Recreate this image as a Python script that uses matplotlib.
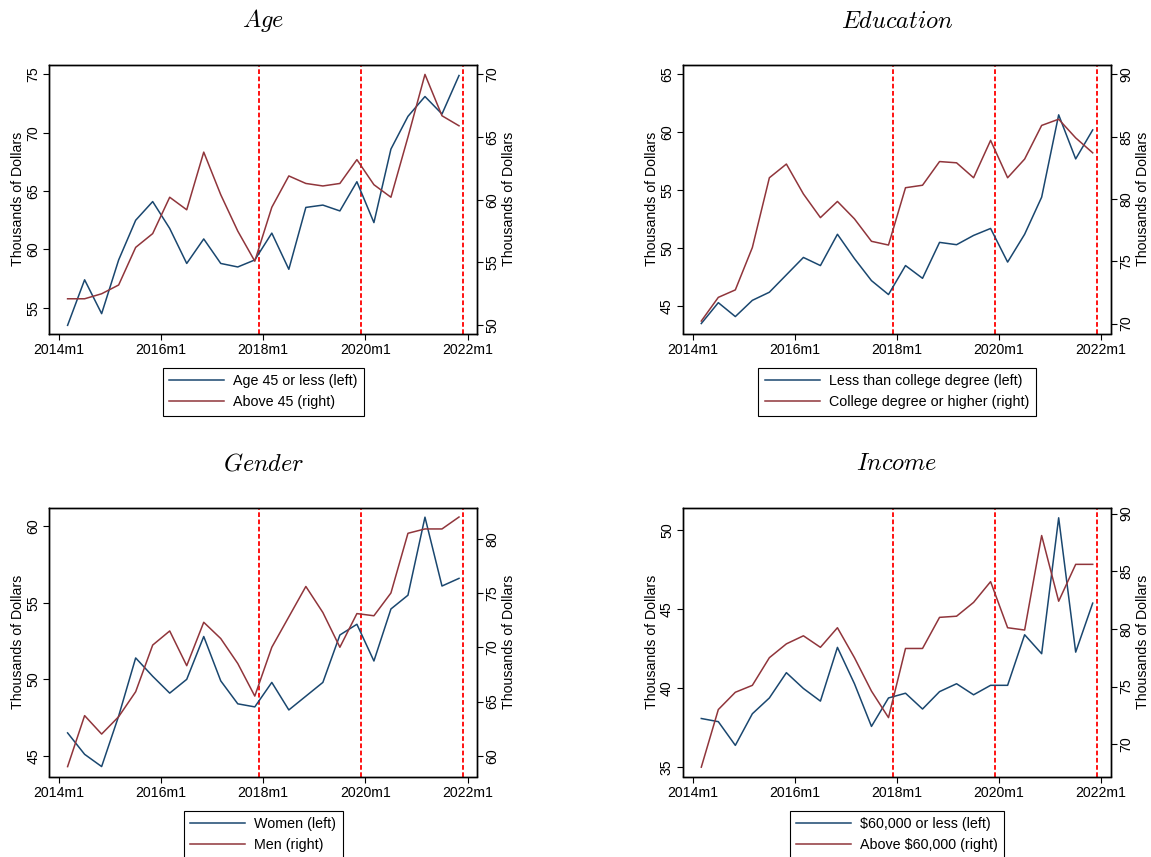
import matplotlib
matplotlib.use('Agg')
import matplotlib.pyplot as plt
from matplotlib.ticker import MultipleLocator
import numpy as np

plt.rcParams['font.family'] = ['Liberation Sans', 'DejaVu Sans']
plt.rcParams['mathtext.fontset'] = 'cm'

# observations every 4 months, 2014m3 ... 2021m11 (months since 2014m1)
months = np.arange(2, 95, 4)
event_months = [47, 71, 95]
tick_months = [0, 24, 48, 72, 96]
tick_labels = ['2014m1', '2016m1', '2018m1', '2020m1', '2022m1']

age_young = [53.5, 57.4, 54.5, 59.1, 62.5, 64.1, 61.8, 58.8, 60.9, 58.8, 58.5, 59.1,
             61.4, 58.3, 63.6, 63.8, 63.3, 65.8, 62.3, 68.6, 71.4, 73.1, 71.6, 74.9]
age_old = [52.1, 52.1, 52.5, 53.2, 56.2, 57.3, 60.2, 59.2, 63.8, 60.4, 57.5, 55.1,
           59.4, 61.9, 61.3, 61.1, 61.3, 63.2, 61.2, 60.2, 65.0, 70.0, 66.7, 65.9]

edu_low = [43.5, 45.3, 44.1, 45.5, 46.2, 47.7, 49.2, 48.5, 51.2, 49.1, 47.2, 46.0,
           48.5, 47.4, 50.5, 50.3, 51.1, 51.7, 48.8, 51.2, 54.4, 61.5, 57.7, 60.2]
edu_high = [70.2, 72.1, 72.7, 76.1, 81.7, 82.8, 80.4, 78.5, 79.8, 78.4, 76.6, 76.3,
            80.9, 81.1, 83.0, 82.9, 81.7, 84.7, 81.7, 83.2, 85.9, 86.4, 84.9, 83.7]

women = [46.5, 45.1, 44.3, 47.6, 51.4, 50.2, 49.1, 50.0, 52.8, 49.9, 48.4, 48.2,
         49.8, 48.0, 48.9, 49.8, 52.9, 53.6, 51.2, 54.6, 55.5, 60.6, 56.1, 56.6]
men = [59.0, 63.7, 62.0, 63.6, 65.9, 70.2, 71.5, 68.3, 72.3, 70.8, 68.5, 65.5,
       70.0, 72.8, 75.6, 73.2, 70.0, 73.1, 72.9, 75.0, 80.5, 80.9, 80.9, 82.0]

inc_low = [38.1, 37.9, 36.4, 38.4, 39.4, 41.0, 40.0, 39.2, 42.6, 40.3, 37.6, 39.4,
           39.7, 38.7, 39.8, 40.3, 39.6, 40.2, 40.2, 43.4, 42.2, 50.8, 42.3, 45.4]
inc_high = [68.0, 73.0, 74.5, 75.1, 77.5, 78.7, 79.4, 78.4, 80.1, 77.5, 74.6, 72.3,
            78.3, 78.3, 81.0, 81.1, 82.3, 84.1, 80.1, 79.9, 88.1, 82.4, 85.6, 85.6]

titles = ['Age', 'Education', 'Gender', 'Income']
left_series = [age_young, edu_low, women, inc_low]
right_series = [age_old, edu_high, men, inc_high]
left_names = ['Age 45 or less (left)', 'Less than college degree (left)',
              'Women (left)', '$60,000 or less (left)']
right_names = ['Above 45 (right)', 'College degree or higher (right)',
               'Men (right)', 'Above $60,000 (right)']
left_lims = [(52.8, 75.8), (42.64, 65.8), (43.65, 61.2), (34.43, 51.42)]
right_lims = [(49.33, 70.75), (69.2, 90.75), (58.09, 82.83), (67.19, 90.49)]

navy = '#1a476f'
maroon = '#90353b'

W, H = 1151, 857
fig = plt.figure(figsize=(W / 100, H / 100), dpi=100)

# axes boxes in pixels: left, top
boxes = [(49.3, 65), (683, 65), (49.3, 508), (683, 508)]
aw, ah = 428, 268.5

for i in range(4):
    x0, y0 = boxes[i]
    ax = fig.add_axes([x0 / W, 1 - (y0 + ah) / H, aw / W, ah / H])
    ax2 = ax.twinx()

    for m in event_months:
        ax.axvline(m, color='#ff0000', lw=1.3, ls=(0, (2.6, 1.4)), zorder=1)
    l1, = ax.plot(months, left_series[i], color=navy, lw=1.1, zorder=2)
    l2, = ax2.plot(months, right_series[i], color=maroon, lw=1.1)

    ax.set_xlim(-2.3, 98.3)
    ax.set_xticks(tick_months, tick_labels)
    ax.set_ylim(*left_lims[i])
    ax2.set_ylim(*right_lims[i])
    ax.yaxis.set_major_locator(MultipleLocator(5))
    ax2.yaxis.set_major_locator(MultipleLocator(5))

    ax.tick_params(axis='x', direction='out', length=4, width=0.8, labelsize=10.2, pad=3)
    ax.tick_params(axis='y', direction='out', length=4, width=0.8, labelsize=10.2, pad=2.5,
                   labelrotation=90)
    ax2.tick_params(axis='y', direction='out', length=4, width=0.8, labelsize=10.2, pad=1.8,
                    labelrotation=90)
    for lab in ax.get_yticklabels() + ax2.get_yticklabels():
        lab.set_va('center')

    for a in (ax, ax2):
        for sp in a.spines.values():
            sp.set_linewidth(1.0)

    ax.set_ylabel('Thousands of Dollars', fontsize=10.2)
    ax2.set_ylabel('Thousands of Dollars', fontsize=10.2, rotation=90)
    ax.yaxis.set_label_coords(-0.057, 0.5)
    ax2.yaxis.set_label_coords(1.0577, 0.5)

    ax.set_title(r'$\mathit{' + titles[i] + '}$', fontsize=17.5, pad=27)

    leg = ax.legend([l1, l2], [left_names[i], right_names[i]], loc='upper center',
                    bbox_to_anchor=(0.5, -0.127), fontsize=10.3, frameon=True,
                    fancybox=False, edgecolor='black', framealpha=1,
                    handlelength=3.85, handletextpad=0.63, borderpad=0.45,
                    labelspacing=0.5, borderaxespad=0)
    leg.get_frame().set_linewidth(0.8)

fig.savefig('out.png', dpi=100)
